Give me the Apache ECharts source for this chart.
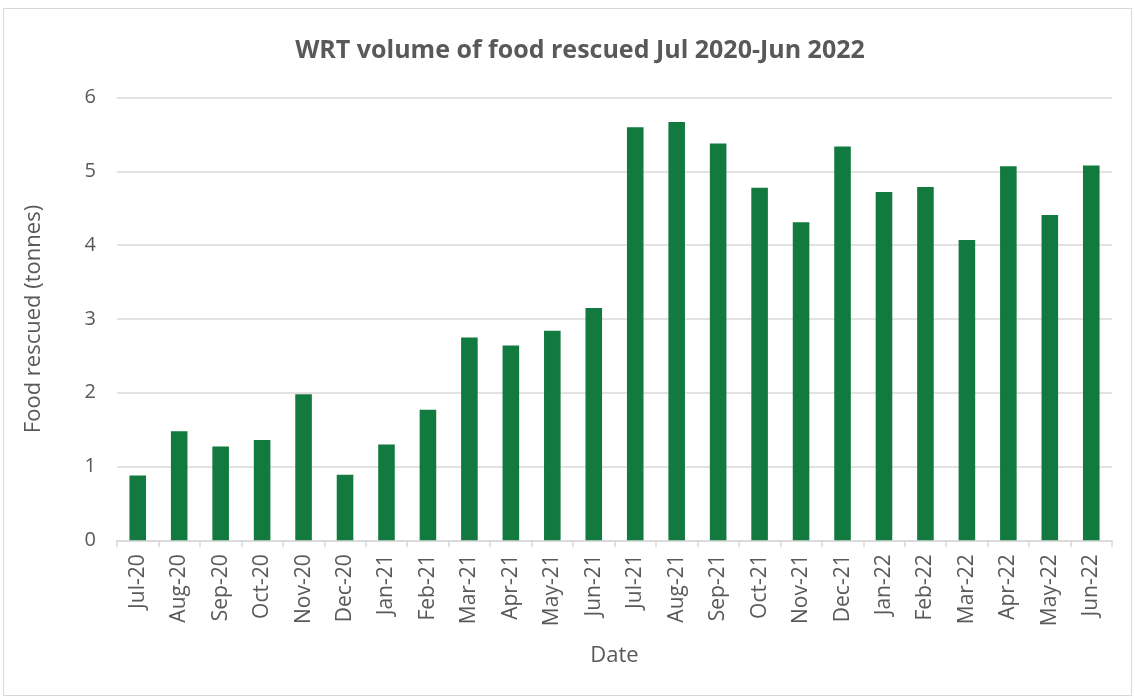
<!DOCTYPE html>
<html>
<head>
<meta charset="utf-8">
<script src="https://cdn.jsdelivr.net/npm/echarts@6/dist/echarts.min.js"></script>
<style>
html,body{margin:0;padding:0;background:#fff;}
#frame{position:absolute;left:3px;top:8px;width:1129px;height:688px;border:1px solid #d9d9d9;box-sizing:border-box;}
#chart{position:absolute;left:0;top:0;width:1135px;height:700px;}
</style>
</head>
<body>
<div id="frame"></div>
<div id="chart"></div>
<script>
const title = 'WRT volume of food rescued Jul 2020-Jun 2022';
const categories = ['Jul-20','Aug-20','Sep-20','Oct-20','Nov-20','Dec-20','Jan-21','Feb-21','Mar-21','Apr-21','May-21','Jun-21','Jul-21','Aug-21','Sep-21','Oct-21','Nov-21','Dec-21','Jan-22','Feb-22','Mar-22','Apr-22','May-22','Jun-22'];
const foodRescued = [0.88,1.48,1.27,1.36,1.98,0.89,1.30,1.77,2.75,2.64,2.84,3.15,5.60,5.67,5.38,4.78,4.31,5.34,4.72,4.79,4.07,5.07,4.41,5.08];
const yAxisName = 'Food rescued (tonnes)';
const xAxisName = 'Date';

const chart = echarts.init(document.getElementById('chart'), null, {renderer:'canvas'});
const txt = '#595959';
const font = "'Open Sans', 'Noto Sans', sans-serif";
chart.setOption({
  animation:false,
  title:{text:title,left:575,textAlign:'center',top:33,textStyle:{fontFamily:font,fontWeight:'bold',fontSize:25,color:txt}},
  grid:{left:117,right:23,top:97.7,bottom:159.7},
  xAxis:{
    type:'category',data:categories,
    name:xAxisName,nameLocation:'middle',nameGap:104,
    nameTextStyle:{fontFamily:font,fontSize:22,color:txt},
    axisLine:{lineStyle:{color:'#d9d9d9',width:1.5}},
    axisTick:{show:true,length:7,alignWithLabel:false,lineStyle:{color:'#d9d9d9',width:1.5}},
    axisLabel:{rotate:90,interval:0,margin:14,fontFamily:font,fontSize:21,color:txt}
  },
  yAxis:{
    type:'value',min:0,max:6,interval:1,
    name:yAxisName,nameLocation:'middle',nameGap:72,
    nameTextStyle:{fontFamily:font,fontSize:22,color:txt},
    axisLine:{show:false},axisTick:{show:false},
    axisLabel:{margin:21,fontFamily:font,fontSize:20,color:txt},
    splitLine:{lineStyle:{color:'#d9d9d9',width:1.5}}
  },
  series:[{type:'bar',data:foodRescued,barWidth:'40%',itemStyle:{color:'#127a3e'}}]
});
</script>
</body>
</html>
